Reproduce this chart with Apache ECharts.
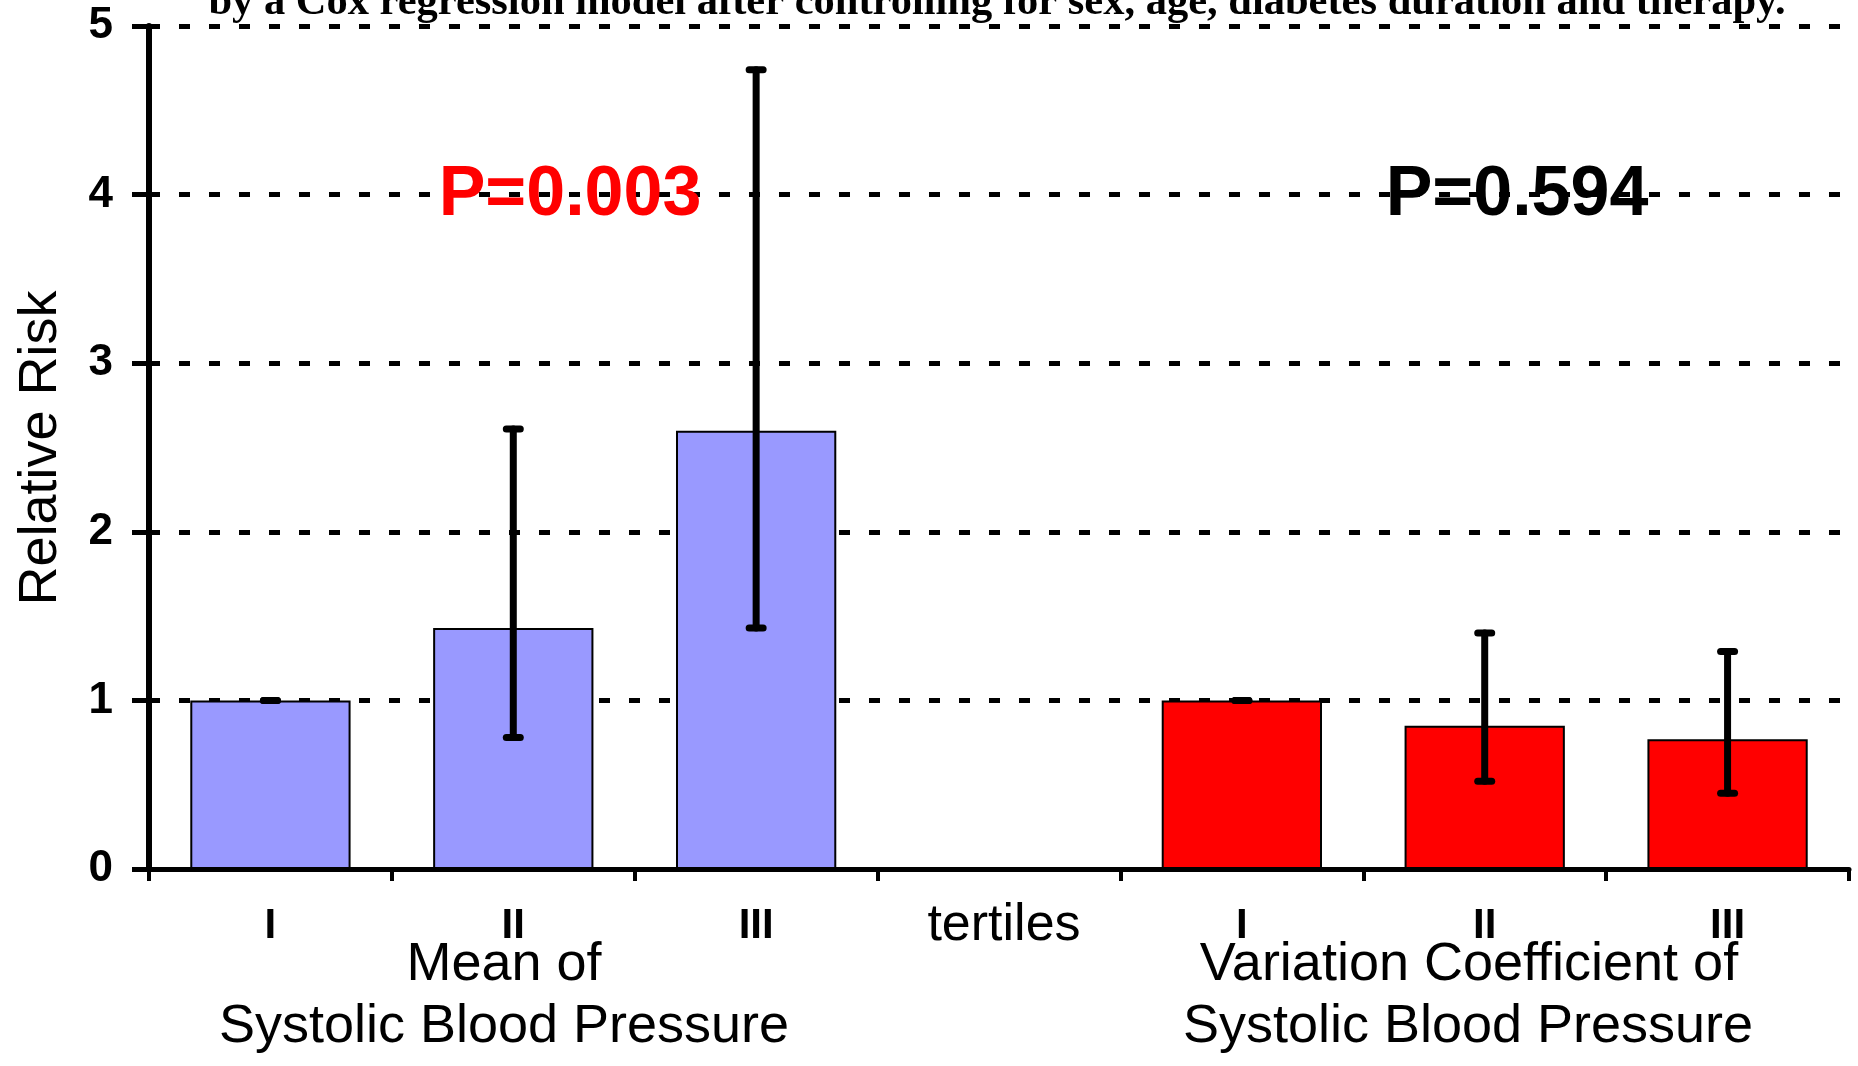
<!DOCTYPE html>
<html>
<head>
<meta charset="utf-8">
<script src="https://cdn.jsdelivr.net/npm/echarts@6/dist/echarts.min.js"></script>
<style>
  html, body { margin: 0; padding: 0; background: #ffffff; }
  #chart { width: 1858px; height: 1066px; }
</style>
</head>
<body>
<div id="chart"></div>
<script>
// Tertile categories along the x axis (left group: mean SBP, right group: CV of SBP)
const categories = ['I', 'II', 'III', 'tertiles', 'I', 'II', 'III'];
// Relative risk per tertile
const meanSbpRR = [1.0, 1.43, 2.60, null, null, null, null];
const cvSbpRR   = [null, null, null, null, 1.0, 0.85, 0.77];
// 95% confidence limits
const ciLow  = [1.0, 0.78, 1.43, null, 1.0, 0.52, 0.45];
const ciHigh = [1.0, 2.61, 4.74, null, 1.0, 1.40, 1.29];
// Value axis
const yMin = 0, yMax = 5, yStep = 1;
// Annotation texts
const titleText = 'by a Cox regression model after controlling for sex, age, diabetes duration and therapy.';
const pMean = 'P=0.003';
const pCv = 'P=0.594';
const yName = 'Relative Risk';
const groupMean = ['Mean of', 'Systolic Blood Pressure'];
const groupCv = ['Variation Coefficient of', 'Systolic Blood Pressure'];

const errData = [];
categories.forEach((c, i) => {
  if (ciLow[i] != null && ciHigh[i] != null) errData.push([i, ciLow[i], ciHigh[i]]);
});

const chart = echarts.init(document.getElementById('chart'), null, { renderer: 'canvas' });

const sans = 'Liberation Sans, Arial, sans-serif';

chart.setOption({
  animation: false,
  backgroundColor: '#ffffff',
  grid: { left: 149, right: 9, top: 26, bottom: 197, containLabel: false },
  xAxis: {
    type: 'category',
    data: categories,
    boundaryGap: true,
    axisLine: { show: true, lineStyle: { color: '#000', width: 5 } },
    axisTick: { show: true, length: 12, lineStyle: { color: '#000', width: 4 } },
    splitLine: { show: false },
    axisLabel: {
      margin: 27,
      interval: 0,
      formatter: v => (v === 'tertiles' ? '{t|' + v + '}' : '{n|' + v + '}'),
      rich: {
        n: { fontFamily: sans, fontWeight: 'bold', fontSize: 42, color: '#000', lineHeight: 60 },
        t: { fontFamily: sans, fontWeight: 'normal', fontSize: 52, color: '#000', lineHeight: 60, padding: [0, 0, 0, 10] }
      }
    }
  },
  yAxis: {
    type: 'value',
    min: yMin,
    max: yMax,
    interval: yStep,
    axisLine: { show: true, lineStyle: { color: '#000', width: 6 } },
    axisTick: { show: true, length: 17, lineStyle: { color: '#000', width: 5 } },
    axisLabel: { margin: 36, fontFamily: sans, fontWeight: 'bold', fontSize: 44, color: '#000' },
    splitLine: { show: true, lineStyle: { color: '#000', width: 5, type: [11, 19] } }
  },
  series: [
    {
      type: 'bar',
      data: meanSbpRR,
      barWidth: '66%',
      barGap: '-100%',
      itemStyle: { color: '#9999ff', borderColor: '#000', borderWidth: 2 },
      z: 2
    },
    {
      type: 'bar',
      data: cvSbpRR,
      barWidth: '66%',
      barGap: '-100%',
      itemStyle: { color: '#ff0000', borderColor: '#000', borderWidth: 2 },
      z: 2
    },
    {
      type: 'custom',
      data: errData,
      z: 5,
      renderItem: (params, api) => {
        const x = api.value(0);
        const lo = api.coord([x, api.value(1)]);
        const hi = api.coord([x, api.value(2)]);
        const half = 7;
        const style = { stroke: '#000', lineWidth: 7, lineCap: 'round' };
        return {
          type: 'group',
          children: [
            { type: 'line', shape: { x1: lo[0], y1: lo[1], x2: hi[0], y2: hi[1] }, style },
            { type: 'line', shape: { x1: lo[0] - half, y1: lo[1], x2: lo[0] + half, y2: lo[1] }, style },
            { type: 'line', shape: { x1: hi[0] - half, y1: hi[1], x2: hi[0] + half, y2: hi[1] }, style }
          ]
        };
      }
    }
  ],
  graphic: [
    {
      type: 'text', x: 997, y: 3, z: 10,
      style: { text: titleText, font: 'bold 42.5px "Liberation Serif", "Times New Roman", serif', fill: '#000', align: 'center', verticalAlign: 'middle' }
    },
    {
      type: 'text', x: 41, y: 448, rotation: Math.PI / 2, z: 10,
      style: { text: yName, font: '54px "Liberation Sans", Arial, sans-serif', fill: '#000', align: 'center', verticalAlign: 'middle' }
    },
    {
      type: 'text', x: 570, y: 196, z: 10,
      style: { text: pMean, font: 'bold 70px "Liberation Sans", Arial, sans-serif', fill: '#ff0000', align: 'center', verticalAlign: 'middle' }
    },
    {
      type: 'text', x: 1517, y: 196, z: 10,
      style: { text: pCv, font: 'bold 70px "Liberation Sans", Arial, sans-serif', fill: '#000', align: 'center', verticalAlign: 'middle' }
    },
    {
      type: 'text', x: 504, y: 965, z: 10,
      style: { text: groupMean[0], font: '54px "Liberation Sans", Arial, sans-serif', fill: '#000', align: 'center', verticalAlign: 'middle' }
    },
    {
      type: 'text', x: 504, y: 1027, z: 10,
      style: { text: groupMean[1], font: '54px "Liberation Sans", Arial, sans-serif', fill: '#000', align: 'center', verticalAlign: 'middle' }
    },
    {
      type: 'text', x: 1469, y: 965, z: 10,
      style: { text: groupCv[0], font: '54px "Liberation Sans", Arial, sans-serif', fill: '#000', align: 'center', verticalAlign: 'middle' }
    },
    {
      type: 'text', x: 1468, y: 1027, z: 10,
      style: { text: groupCv[1], font: '54px "Liberation Sans", Arial, sans-serif', fill: '#000', align: 'center', verticalAlign: 'middle' }
    }
  ]
});
</script>
</body>
</html>
